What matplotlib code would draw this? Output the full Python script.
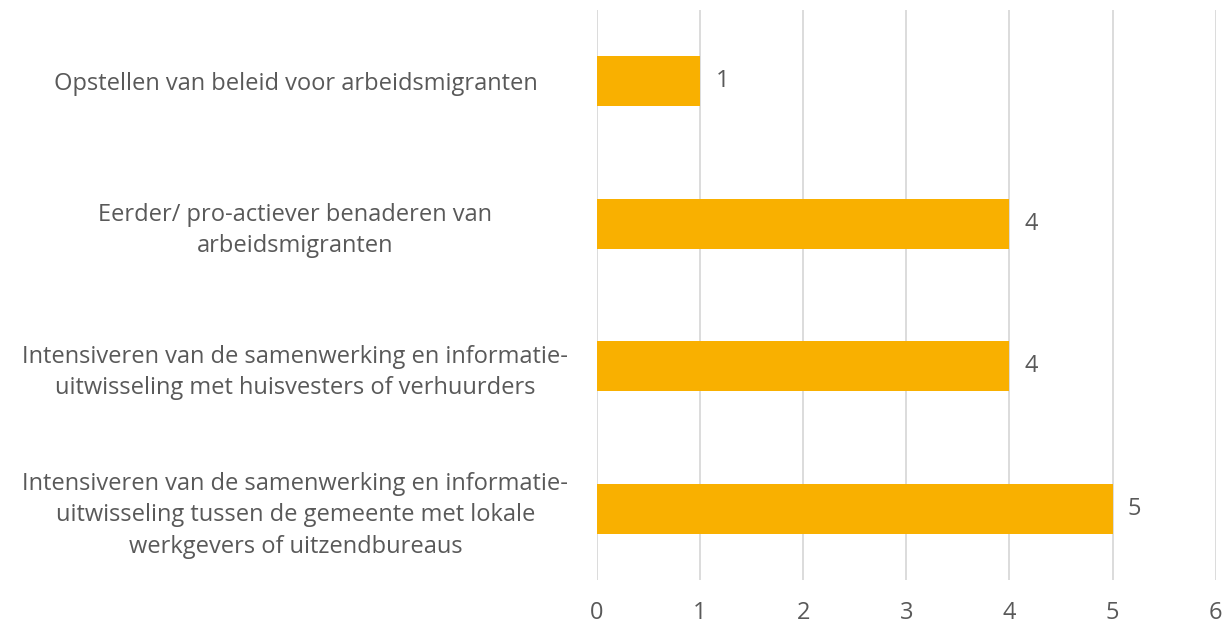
import numpy as np
import matplotlib
matplotlib.use('Agg')
import matplotlib.pyplot as plt

plt.rcParams['font.family'] = ['Open Sans', 'DejaVu Sans']

# data (top to bottom as in the chart)
labels = ['Opstellen van beleid voor arbeidsmigranten',
          'Eerder/ pro-actiever benaderen van\narbeidsmigranten',
          'Intensiveren van de samenwerking en informatie-\nuitwisseling met huisvesters of verhuurders',
          'Intensiveren van de samenwerking en informatie-\nuitwisseling tussen de gemeente met lokale\nwerkgevers of uitzendbureaus']
values = [1, 4, 4, 5]
xticks = [0, 1, 2, 3, 4, 5, 6]

txt = '#595959'
fig = plt.figure(figsize=(12.23, 6.24), dpi=100)
ax = fig.add_axes([0.488, 0.0705, 0.506, 0.9135])

y = np.arange(len(values))[::-1]
ax.barh(y, values, height=0.35, color='#F9B000', zorder=3)
for yi, v in zip(y, values):
    ax.text(v + 0.15, yi, str(v), va='center', ha='left', fontsize=17, color=txt)

ax.set_xlim(0, 6)
ax.set_ylim(-0.5, 3.5)
ax.set_xticks(xticks)
ax.set_xticklabels([str(t) for t in xticks], fontsize=17, color=txt)
ax.set_yticks(y)
ax.set_yticklabels(labels, fontsize=17, color=txt, ha='center', linespacing=1.4)
ax.tick_params(axis='y', length=0, pad=217)
ax.tick_params(axis='x', length=0, pad=15)
ax.grid(axis='x', color='#D9D9D9', linewidth=1.3, zorder=0)
for s in ax.spines.values():
    s.set_visible(False)

fig.savefig('out.png', dpi=100)
